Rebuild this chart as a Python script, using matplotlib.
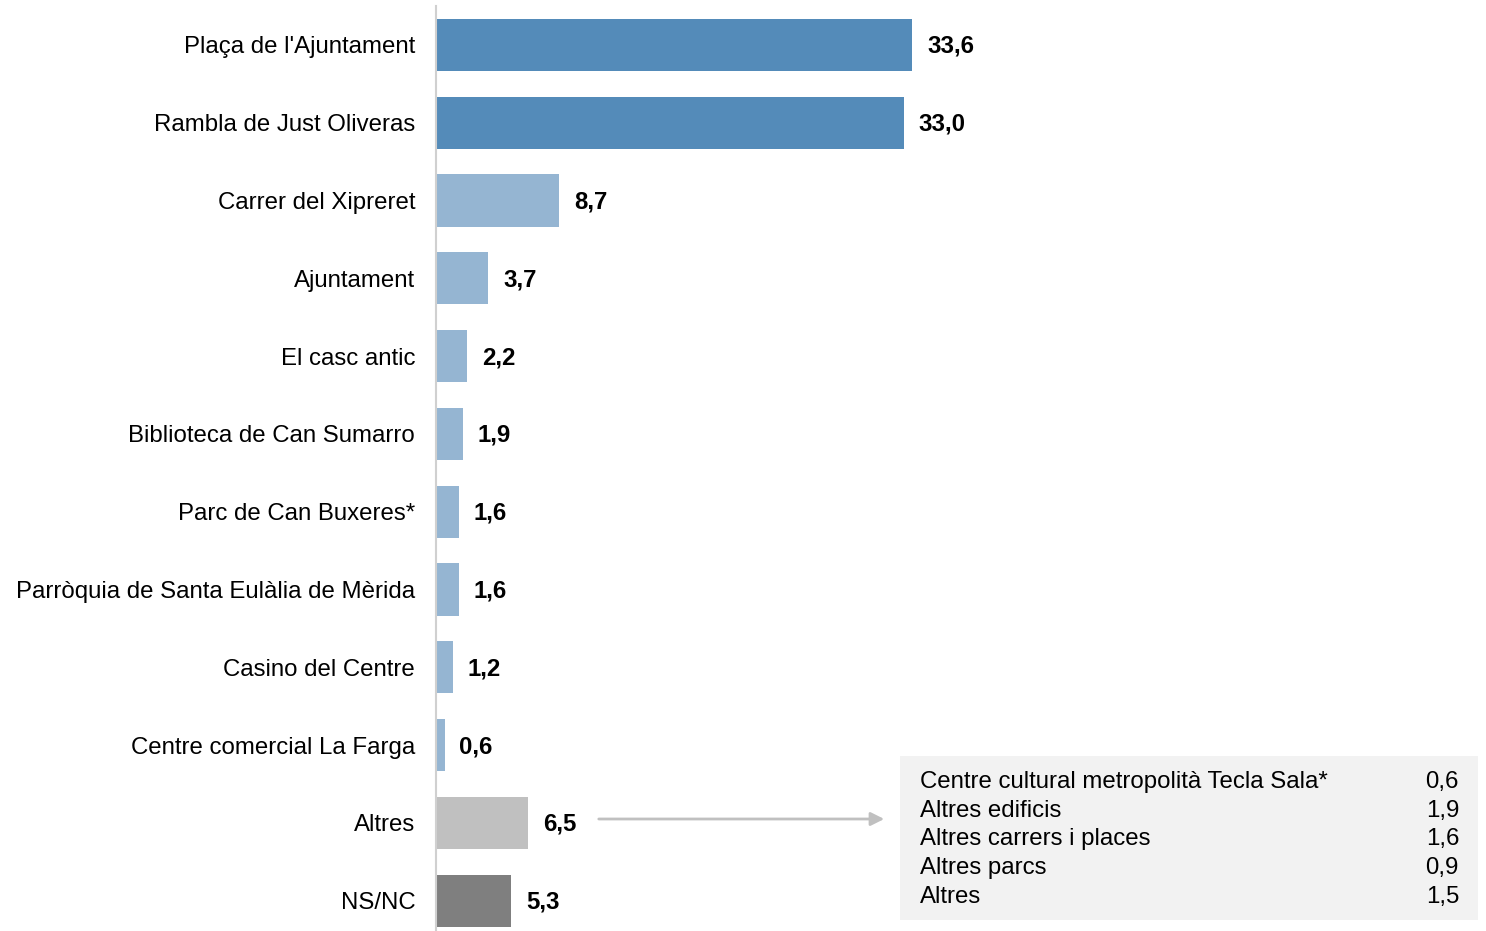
import matplotlib.pyplot as plt
import matplotlib.patches as mpatches

plt.rcParams['font.family'] = ['Liberation Sans', 'DejaVu Sans']

categories = ["Plaça de l'Ajuntament", "Rambla de Just Oliveras", "Carrer del Xipreret",
              "Ajuntament", "El casc antic", "Biblioteca de Can Sumarro",
              "Parc de Can Buxeres*", "Parròquia de Santa Eulàlia de Mèrida",
              "Casino del Centre", "Centre comercial La Farga", "Altres", "NS/NC"]
values = [33.6, 33.0, 8.7, 3.7, 2.2, 1.9, 1.6, 1.6, 1.2, 0.6, 6.5, 5.3]
colors = ['#548bb9', '#548bb9'] + ['#95b5d2'] * 8 + ['#c0c0c0', '#7f7f7f']

detail_labels = ["Centre cultural metropolità Tecla Sala*", "Altres edificis",
                 "Altres carrers i places", "Altres parcs", "Altres"]
detail_values = [0.6, 1.9, 1.6, 0.9, 1.5]

FS = 17.3


def fmt(v):
    return f"{v:.1f}".replace('.', ',')


fig = plt.figure(figsize=(14.86, 9.31), dpi=100)
ax = fig.add_axes([436 / 1486, 0, 1050 / 1486, 925 / 931])

y = list(range(len(categories)))
ax.barh(y, values, height=0.67, color=colors)
ax.set_ylim(11.39, -0.5)
ax.set_xlim(0, 1050 / 14.17)

for yi, v in zip(y, values):
    ax.text(v + 1.05, yi + 0.02, fmt(v), va='center', ha='left', fontsize=FS,
            fontweight='bold', color='black')

ax.set_yticks(y)
ax.set_yticklabels(categories, fontsize=FS)
ax.tick_params(axis='y', length=0, pad=15)
ax.set_xticks([])
for s in ['top', 'right', 'bottom']:
    ax.spines[s].set_visible(False)
ax.spines['left'].set_color('#d0d0d0')
ax.spines['left'].set_linewidth(1.5)

# detail box for "Altres"
box = mpatches.Rectangle((900 / 1486, 11 / 931), 578 / 1486, 164 / 931,
                         transform=fig.transFigure, facecolor='#f2f2f2',
                         edgecolor='none', zorder=0)
fig.patches.append(box)
for i, (lab, val) in enumerate(zip(detail_labels, detail_values)):
    yy = 1 - (782 + i * 28.7) / 931
    fig.text(920 / 1486, yy, lab, fontsize=FS, va='center', ha='left')
    fig.text(1459 / 1486, yy, fmt(val), fontsize=FS, va='center', ha='right')

# arrow from Altres bar to box
fig.add_artist(mpatches.FancyArrowPatch((596 / 1486, 1 - 819 / 931), (887 / 1486, 1 - 819 / 931),
                                        transform=fig.transFigure, arrowstyle='-|>',
                                        mutation_scale=20, color='#c0c0c0', lw=2))

fig.savefig('out.png', dpi=100)
